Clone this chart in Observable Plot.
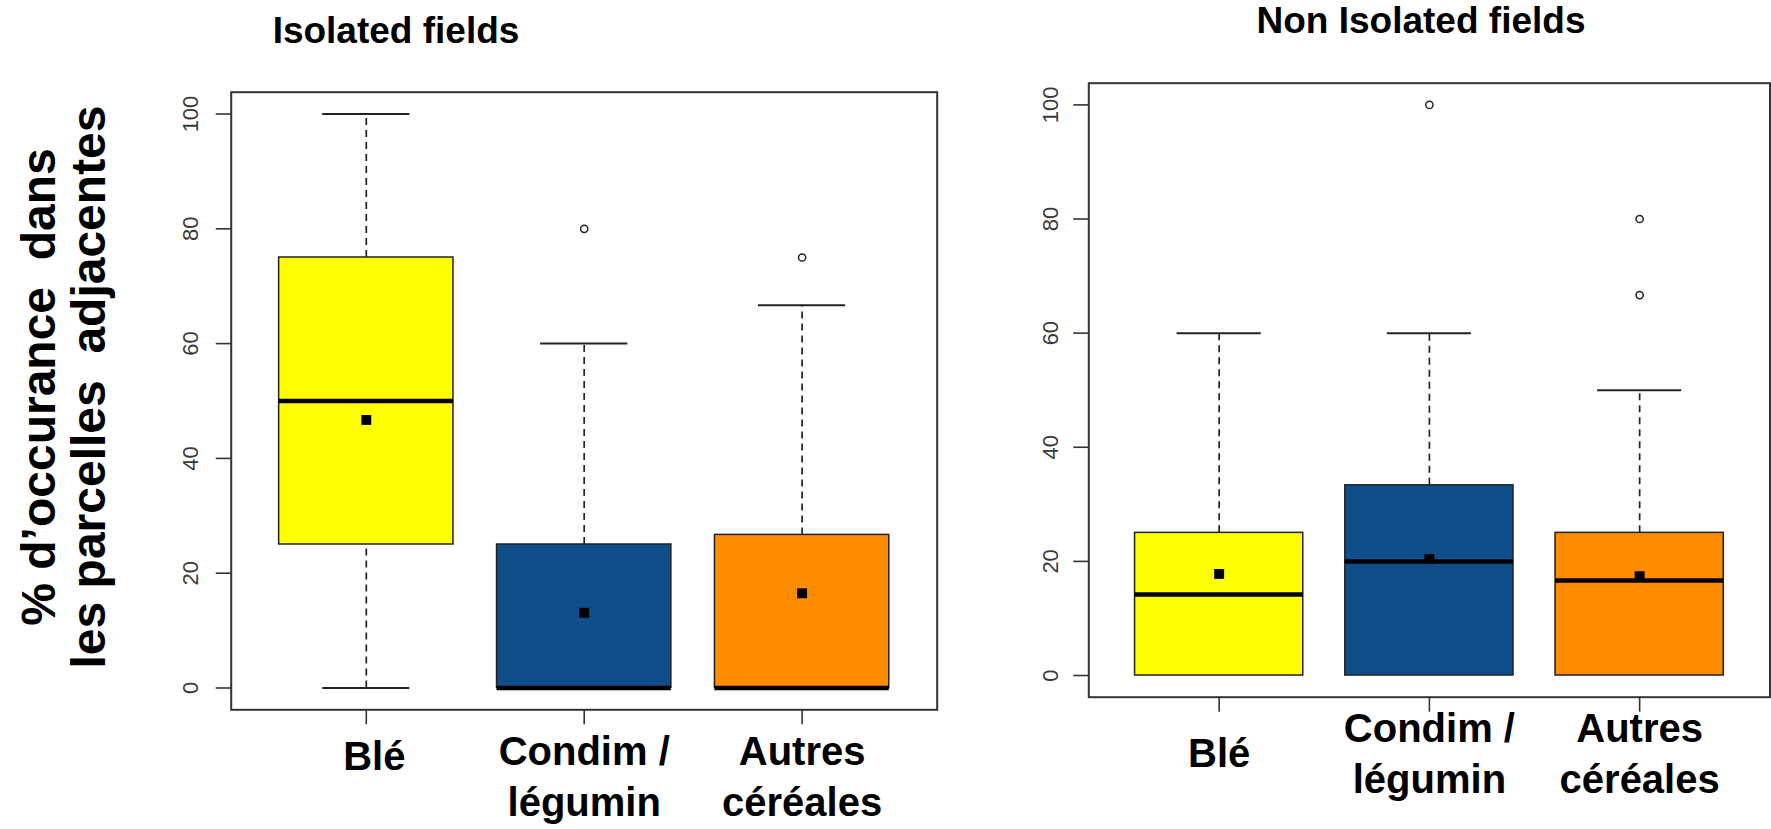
<!DOCTYPE html>
<html>
<head>
<meta charset="utf-8">
<script src="https://cdn.jsdelivr.net/npm/d3@7"></script>
<script src="https://cdn.jsdelivr.net/npm/@observablehq/plot@0.6"></script>
<style>
  body { margin: 0; background: #fff; }
  #wrap { position: relative; width: 1771px; height: 829px; overflow: hidden; font-family: "Liberation Sans", Arial, sans-serif; background: #fff; }
  .panel { position: absolute; top: 0; }
  .overlay { position: absolute; left: 0; top: 0; pointer-events: none; }
</style>
</head>
<body>
<div id="wrap"></div>
<script>
// ---------- data ----------
const categories = ["Blé", "Condim /\nlégumin", "Autres\ncéréales"];
const colors = ["#FFFF00", "#104E8B", "#FF8C00"];
const yTicks = [0, 20, 40, 60, 80, 100];

const panelTitles = ["Isolated fields", "Non Isolated fields"];
const yTitleLines = ["% d\u2019occurance  dans", "les parcelles  adjacentes"];

// Isolated fields
const isoLow      = [0, 0, 0];
const isoQ1       = [25, 0, 0];
const isoMedian   = [50, 0, 0];
const isoQ3       = [75, 25, 26.67];
const isoHigh     = [100, 60, 66.67];
const isoMean     = [46.7, 13.1, 16.5];
const isoOutliers = [[], [80], [75]];

// Non isolated fields
const nonLow      = [0, 0, 0];
const nonQ1       = [0, 0, 0];
const nonMedian   = [14.2, 20, 16.67];
const nonQ3       = [25, 33.33, 25];
const nonHigh     = [60, 60, 50];
const nonMean     = [17.8, 20.4, 17.4];
const nonOutliers = [[], [100], [66.67, 80]];

// ---------- drawing ----------
const FONT = "'Liberation Sans', Arial, sans-serif";
const BOXHALF = 0.4, CAPHALF = 0.2;

function makePanel(st, o) {
  const rows = categories.map((c, i) => ({
    cat: c, pos: i + 1, color: colors[i],
    lo: st.low[i], q1: st.q1[i], med: st.median[i], q3: st.q3[i], hi: st.high[i], mean: st.mean[i]
  }));
  const outl = st.outliers.flatMap((arr, i) => arr.map(v => ({pos: i + 1, v})));
  const single = rows.filter(d => !d.cat.includes("\n"));
  const multi = rows.filter(d => d.cat.includes("\n"));
  const upper = rows.filter(d => d.hi > d.q3);
  const lower = rows.filter(d => d.lo < d.q1);
  const whisk = {stroke: "#222", strokeWidth: 1.7, strokeDasharray: "7,5"};
  const cap = {stroke: "#222", strokeWidth: 2};
  return Plot.plot({
    width: o.width, height: 829,
    marginLeft: o.ml, marginRight: o.mr, marginTop: o.mt, marginBottom: o.mb,
    x: {type: "linear", domain: [0.38, 3.62], axis: null},
    y: {domain: [-3.8, 103.8], axis: null},
    style: {fontFamily: FONT, background: "transparent", overflow: "visible"},
    marks: [
      Plot.ruleX(upper, {x: "pos", y1: "q3", y2: "hi", ...whisk}),
      Plot.ruleX(lower, {x: "pos", y1: "lo", y2: "q1", ...whisk}),
      Plot.ruleY(upper, {y: "hi", x1: d => d.pos - CAPHALF, x2: d => d.pos + CAPHALF, ...cap}),
      Plot.ruleY(lower, {y: "lo", x1: d => d.pos - CAPHALF, x2: d => d.pos + CAPHALF, ...cap}),
      Plot.rect(rows, {x1: d => d.pos - BOXHALF, x2: d => d.pos + BOXHALF, y1: "q1", y2: "q3",
        fill: "color", stroke: "#222", strokeWidth: 1.5}),
      Plot.ruleY(rows, {y: "med", x1: d => d.pos - BOXHALF, x2: d => d.pos + BOXHALF, stroke: "#000", strokeWidth: 4.5}),
      Plot.dot(rows, {x: "pos", y: "mean", symbol: "square", r: 5.6, fill: "#000", stroke: "none"}),
      Plot.dot(outl, {x: "pos", y: "v", r: 3.6, fill: "none", stroke: "#222", strokeWidth: 1.5}),
      Plot.frame({stroke: "#333", strokeWidth: 2}),
      Plot.axisY({ticks: yTicks, tickSize: 15, tickFormat: () => "", label: null, stroke: "#333", strokeWidth: 1.6}),
      Plot.text(yTicks, {y: d => d, text: d => String(d), frameAnchor: "left", dx: o.tickDx, rotate: -90,
        textAnchor: "middle", lineAnchor: "middle", fontSize: 22, fill: "#3a3a3a"}),
      Plot.axisX({ticks: [1, 2, 3], tickSize: 15, tickFormat: () => "", label: null, stroke: "#333", strokeWidth: 1.6}),
      Plot.text(multi, {x: "pos", text: "cat", frameAnchor: "bottom", dy: o.multiDy, lineAnchor: "top",
        fontSize: 40, fontWeight: "bold", lineHeight: 1.275, fill: "#000"}),
      Plot.text(single, {x: "pos", text: "cat", frameAnchor: "bottom", dy: o.singleDy, dx: o.singleDx, lineAnchor: "top",
        fontSize: 40, fontWeight: "bold", fill: "#000"})
    ]
  });
}

const wrap = document.getElementById("wrap");

const left = makePanel(
  {low: isoLow, q1: isoQ1, median: isoMedian, q3: isoQ3, high: isoHigh, mean: isoMean, outliers: isoOutliers},
  {width: 940, ml: 230.7, mr: 3.3, mt: 91.7, mb: 119.7, tickDx: -40.7, multiDy: 19, singleDy: 32, singleDx: 8}
);
left.classList.add("panel");
left.style.left = "0px";
wrap.appendChild(left);

const right = makePanel(
  {low: nonLow, q1: nonQ1, median: nonMedian, q3: nonQ3, high: nonHigh, mean: nonMean, outliers: nonOutliers},
  {width: 771, ml: 88.3, mr: 1.5, mt: 82.7, mb: 132.3, tickDx: -38.3, multiDy: 9, singleDy: 41, singleDx: 0}
);
right.classList.add("panel");
right.style.left = "1000px";
wrap.appendChild(right);

// titles and y-axis title
const ov = d3.create("svg").attr("class", "overlay").attr("width", 1771).attr("height", 829)
  .style("font-family", FONT);
ov.append("text").attr("x", 396).attr("y", 43).attr("text-anchor", "middle")
  .attr("font-size", 37).attr("font-weight", "bold").text(panelTitles[0]);
ov.append("text").attr("x", 1421).attr("y", 33).attr("text-anchor", "middle")
  .attr("font-size", 37).attr("font-weight", "bold").text(panelTitles[1]);
[55, 105].forEach((bx, i) => {
  ov.append("text").attr("transform", `translate(${bx},387) rotate(-90)`)
    .attr("text-anchor", "middle").attr("font-size", 48).attr("font-weight", "bold")
    .style("white-space", "pre").attr("xml:space", "preserve").text(yTitleLines[i]);
});
wrap.appendChild(ov.node());
</script>
</body>
</html>
